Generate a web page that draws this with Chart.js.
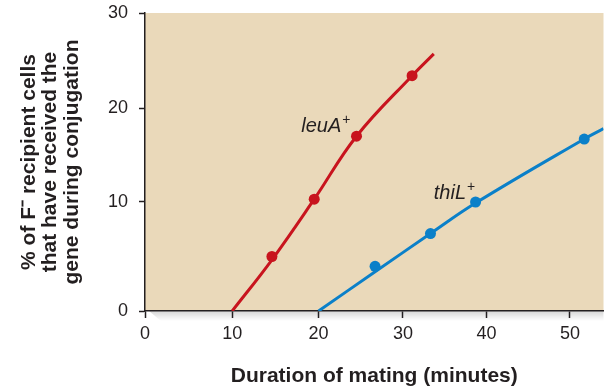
<!DOCTYPE html>
<html>
<head>
<meta charset="utf-8">
<script src="https://cdn.jsdelivr.net/npm/chart.js@4"></script>
<style>
  html, body { margin: 0; padding: 0; background: #ffffff; }
  #wrap { width: 609px; height: 390px; position: relative; }
</style>
</head>
<body>
<div id="wrap"><canvas id="c"></canvas></div>
<script>
// ---- data ----
const xTicks = [0, 10, 20, 30, 40, 50];
const yTicks = [0, 10, 20, 30];

const leuAPoints = [[14.6, 5.0], [19.5, 10.3], [24.5, 17.0], [31.1, 23.4]];
const leuACurve  = [[10, 0], [14.6, 4.7], [19.5, 10.3], [24.5, 17.0], [31.1, 23.4], [33.7, 25.7]];

const thiLPoints = [[26.7, 4.1], [33.3, 7.1], [38.7, 10.0], [51.7, 16.7]];
const thiLCurve  = [[20, 0], [26.7, 3.6], [33.3, 7.1], [38.7, 9.9], [51.7, 16.7], [54.0, 17.8]];

const xTitle = 'Duration of mating (minutes)';
const yTitle = ['% of F\u207B recipient cells', 'that have received the', 'gene during conjugation'];

// ---- axis calibration (the printed axes are not evenly spaced) ----
const SCALE_BREAKS = {
  x: [[0, 0], [10, 0.1902], [20, 0.3785], [30, 0.5625], [40, 0.7447], [50, 0.9269], [54.0, 1]],
  y: [[0, 0], [10, 0.3658], [20, 0.6812], [30, 1]]
};

const toXY = arr => arr.map(p => ({x: p[0], y: p[1]}));

class PiecewiseScale extends Chart.LinearScale {
  _bp() { return SCALE_BREAKS[this.id]; }
  getPixelForValue(value) {
    const bp = this._bp();
    let dec;
    if (value <= bp[0][0]) {
      dec = bp[0][1] + (value - bp[0][0]) * (bp[1][1] - bp[0][1]) / (bp[1][0] - bp[0][0]);
    } else {
      let i = 1;
      while (i < bp.length - 1 && value > bp[i][0]) i++;
      const a = bp[i - 1], b = bp[i];
      dec = a[1] + (value - a[0]) * (b[1] - a[1]) / (b[0] - a[0]);
    }
    return this.getPixelForDecimal(dec);
  }
  getValueForPixel(pixel) {
    const bp = this._bp();
    const dec = this.getDecimalForPixel(pixel);
    let i = 1;
    while (i < bp.length - 1 && dec > bp[i][1]) i++;
    const a = bp[i - 1], b = bp[i];
    return a[0] + (dec - a[1]) * (b[0] - a[0]) / (b[1] - a[1]);
  }
}
PiecewiseScale.id = 'piecewise';
PiecewiseScale.defaults = Chart.LinearScale.defaults;
Chart.register(PiecewiseScale);

const RED = '#C8141E';
const BLUE = '#0B80C9';
const INK = '#231F20';
const FONT = "'Liberation Sans', Arial, Helvetica, sans-serif";

const bgPlugin = {
  id: 'bg',
  beforeDraw(chart) {
    const {ctx, chartArea: a} = chart;
    ctx.save();
    ctx.fillStyle = '#EAD9BA';
    ctx.fillRect(a.left, a.top, a.right - a.left, a.bottom - a.top);
    // soft shadow under the x axis
    const g = ctx.createLinearGradient(0, a.bottom, 0, a.bottom + 10);
    g.addColorStop(0, 'rgba(0,0,0,0.16)');
    g.addColorStop(1, 'rgba(0,0,0,0)');
    ctx.fillStyle = g;
    ctx.beginPath();
    ctx.moveTo(a.left + 4, a.bottom);
    ctx.lineTo(a.right, a.bottom);
    ctx.lineTo(a.right, a.bottom + 10);
    ctx.lineTo(a.left + 16, a.bottom + 10);
    ctx.closePath();
    ctx.fill();
    ctx.restore();
  }
};

const geneLabels = [
  {name: 'leuA', sup: '+', x: 18.0, y: 17.4},
  {name: 'thiL', sup: '+', x: 33.7, y: 10.3}
];

const labelPlugin = {
  id: 'geneLabels',
  afterDatasetsDraw(chart) {
    const {ctx, scales} = chart;
    ctx.save();
    ctx.fillStyle = INK;
    ctx.textBaseline = 'alphabetic';
    ctx.textAlign = 'left';
    geneLabels.forEach(l => {
      const px = scales.x.getPixelForValue(l.x);
      const py = scales.y.getPixelForValue(l.y);
      ctx.font = 'italic 20px ' + FONT;
      ctx.fillText(l.name, px, py);
      const w = ctx.measureText(l.name).width;
      ctx.font = '14px ' + FONT;
      ctx.fillText(l.sup, px + w + 1, py - 8);
    });
    ctx.restore();
  }
};

new Chart(document.getElementById('c'), {
  type: 'line',
  data: {
    datasets: [
      { data: toXY(leuACurve), borderColor: RED, borderWidth: 3, pointRadius: 0, tension: 0.4, fill: false },
      { data: toXY(leuAPoints), showLine: false, pointRadius: 5.5, pointBackgroundColor: RED, pointBorderWidth: 0, borderColor: RED },
      { data: toXY(thiLCurve), borderColor: BLUE, borderWidth: 3, pointRadius: 0, tension: 0.4, fill: false },
      { data: toXY(thiLPoints), showLine: false, pointRadius: 5.5, pointBackgroundColor: BLUE, pointBorderWidth: 0, borderColor: BLUE }
    ]
  },
  options: {
    responsive: true,
    maintainAspectRatio: false,
    animation: false,
    events: [],
    layout: { padding: { left: 0, right: 1, top: 13, bottom: 0 } },
    plugins: { legend: { display: false }, tooltip: { enabled: false } },
    scales: {
      x: {
        type: 'piecewise',
        min: 0, max: 54.0,
        afterFit(s) { s.height = 79; s.paddingLeft = 0; s.paddingRight = 0; },
        afterBuildTicks(s) { s.ticks = xTicks.map(v => ({value: v})); },
        border: { display: true, color: INK, width: 1.5 },
        grid: { display: true, drawOnChartArea: false, drawTicks: true, tickLength: 7, tickColor: INK, tickWidth: 1.5 },
        ticks: { color: INK, font: { family: FONT, size: 18 }, padding: 5, maxRotation: 0, autoSkip: false, includeBounds: false },
        title: { display: true, text: xTitle, color: INK, font: { family: FONT, size: 21, weight: 'bold' }, padding: { top: 0, bottom: 1 } }
      },
      y: {
        type: 'piecewise',
        min: 0, max: 30,
        afterFit(s) { s.width = 145; s.paddingTop = 0; s.paddingBottom = 0; },
        afterBuildTicks(s) { s.ticks = yTicks.map(v => ({value: v})); },
        border: { display: true, color: INK, width: 1.5 },
        grid: { display: true, drawOnChartArea: false, drawTicks: true, tickLength: 6, tickColor: INK, tickWidth: 1.5 },
        ticks: { color: INK, font: { family: FONT, size: 18 }, padding: 11, autoSkip: false },
        title: { display: true, text: yTitle, color: INK, font: { family: FONT, size: 21, weight: 'bold', lineHeight: 1.024 }, padding: { top: 18, bottom: 0 } }
      }
    }
  },
  plugins: [bgPlugin, labelPlugin]
});
</script>
</body>
</html>
